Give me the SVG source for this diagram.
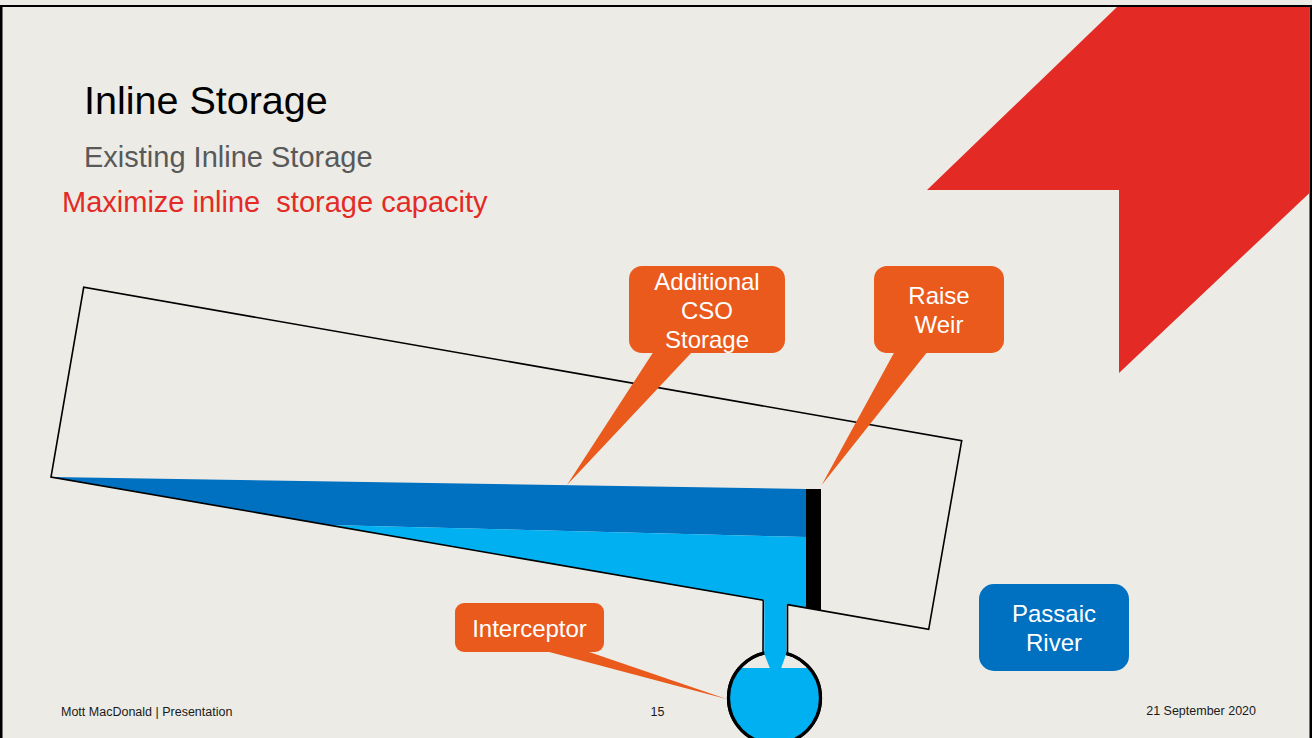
<svg xmlns="http://www.w3.org/2000/svg" width="1312" height="738" viewBox="0 0 1312 738">
  <style>
    .sans { font-family: "Liberation Sans", Arial, sans-serif; }
    .callout { fill: #E95A1C; }
    .callout-text { font-family: "Liberation Sans", Arial, sans-serif; font-size: 24px; fill: #FFFFFF; text-anchor: middle; }
    .outline { fill: none; stroke: #000000; stroke-width: 1.6; stroke-linejoin: miter; }
    .footer { font-family: "Liberation Sans", Arial, sans-serif; font-size: 12.5px; fill: #1A1A1A; }
  </style>

  <!-- slide background and frame -->
  <rect x="0" y="0" width="1312" height="738" fill="#ECEBE6"/>
  <g id="frame" fill="#000000">
    <rect x="0" y="5" width="1312" height="2"/>
    <rect x="0" y="5" width="2.5" height="733"/>
    <rect x="1309.5" y="5" width="2.5" height="733"/>
  </g>

  <!-- brand device, top right -->
  <polygon id="brand-mark" fill="#E42A25" points="1117,7 1309.5,7 1309.5,193 1119,373 1119,190 927,190"/>

  <!-- headings -->
  <g id="headings" class="sans">
    <text x="84" y="113.5" font-size="39.5" fill="#000000">Inline Storage</text>
    <text x="84" y="166.5" font-size="29" fill="#595959">Existing Inline Storage</text>
    <text x="62" y="211.5" font-size="29" fill="#E42A25" xml:space="preserve">Maximize inline  storage capacity</text>
  </g>

  <!-- interceptor sewer: circular pipe with partial flow -->
  <g id="interceptor-pipe">
    <circle cx="774.5" cy="698" r="46" fill="#ECEBE6" stroke="#000000" stroke-width="3.2"/>
    <path d="M 739.6 668 L 809.4 668 A 46 46 0 1 1 739.6 668 Z" fill="#00B0F0"/>
    <circle cx="774.5" cy="698" r="46" fill="none" stroke="#000000" stroke-width="3.2"/>
  </g>

  <!-- stored flow inside the sewer -->
  <g id="stored-flow">
    <polygon fill="#0070C0" points="51,477 806,489 806,537 328,525"/>
    <polygon fill="#00B0F0" points="328,525 806,537 806,607.7 786.5,604.4 786.5,653 781,668.5 770,668.5 764.3,654 764.3,600.5"/>
  </g>

  <!-- sewer section, drop pipe walls and weir -->
  <g id="sewer">
    <path class="outline" d="M 763.3 600.3 L 51 477 L 83.7 287.3 L 961.7 440.7 L 928.7 629.3 L 787.5 604.6"/>
    <path class="outline" d="M 763.3 600.3 L 763 655 M 787.5 604.6 L 787.5 654"/>
  </g>
  <polygon id="weir" fill="#000000" points="806,489 821,489 821,610.5 806,607.8"/>

  <!-- callout pointers -->
  <g id="connectors" class="callout">
    <polygon points="654,351 693,351 567,485"/>
    <polygon points="895,351 928,351 821.7,485"/>
    <polygon points="541.7,650 583.3,650 727.3,699.3"/>
  </g>

  <!-- callouts -->
  <g id="callout-cso-storage">
    <rect class="callout" x="629" y="266" width="156" height="87" rx="13"/>
    <text class="callout-text" x="707" y="289.5">Additional</text>
    <text class="callout-text" x="707" y="318.5">CSO</text>
    <text class="callout-text" x="707" y="347.5">Storage</text>
  </g>
  <g id="callout-raise-weir">
    <rect class="callout" x="874" y="266" width="130" height="87" rx="13"/>
    <text class="callout-text" x="939" y="303.5">Raise</text>
    <text class="callout-text" x="939" y="332.5">Weir</text>
  </g>
  <g id="callout-interceptor">
    <rect class="callout" x="455" y="603" width="149" height="49" rx="9"/>
    <text class="callout-text" x="529.5" y="637">Interceptor</text>
  </g>
  <g id="label-passaic-river">
    <rect x="979" y="584" width="150" height="87" rx="15" fill="#0070C0"/>
    <text class="callout-text" x="1054" y="622">Passaic</text>
    <text class="callout-text" x="1054" y="651">River</text>
  </g>

  <!-- footer -->
  <g id="footer">
    <text class="footer" x="61" y="715.5">Mott MacDonald | Presentation</text>
    <text class="footer" x="657.5" y="715.5" text-anchor="middle">15</text>
    <text class="footer" x="1256" y="715" text-anchor="end">21 September 2020</text>
  </g>
</svg>
